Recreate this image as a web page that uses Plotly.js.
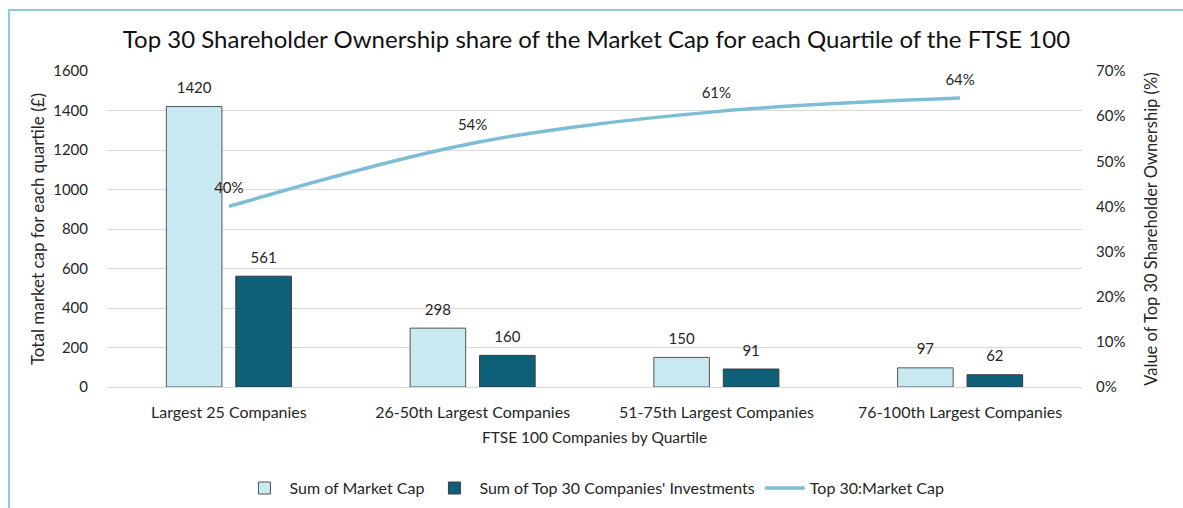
<!DOCTYPE html>
<html>
<head>
<meta charset="utf-8">
<script src="https://cdn.plot.ly/plotly-3.0.1.min.js"></script>
<style>
  html, body { margin: 0; padding: 0; background: #fff; }
  #frame {
    position: absolute; left: 8px; top: 9px;
    width: 1175px; height: 499px;
    border-left: 2px solid #8ECADB; border-top: 2px solid #8ECADB;
  }
  #chart { width: 1173px; height: 497px; }
</style>
</head>
<body>
<div id="frame"><div id="chart"></div></div>
<script>
const quartiles = ['Largest 25 Companies', '26-50th Largest Companies', '51-75th Largest Companies', '76-100th Largest Companies'];
const marketCap = [1420, 298, 150, 97];
const top30Investments = [561, 160, 91, 62];
const top30Share = [0.40, 0.54, 0.61, 0.64];

const font = 'Lato, "Open Sans", sans-serif';
const ink = '#262626';
const clear = 'rgba(0,0,0,0)';

// bar value labels: text on invisible markers, grouped like the bars so they sit over them
function labelTrace(y, group) {
  return {
    x: quartiles,
    y: y,
    text: y.map(String),
    type: 'scatter',
    mode: 'markers+text',
    alignmentgroup: 'bars',
    offsetgroup: group,
    marker: { size: 14, color: clear, line: { width: 0 } },
    textposition: 'top center',
    textfont: { size: 15, color: ink },
    cliponaxis: false,
    showlegend: false,
    hoverinfo: 'skip'
  };
}

const traces = [
  {
    x: quartiles,
    y: marketCap,
    name: 'Sum of Market Cap',
    type: 'bar',
    alignmentgroup: 'bars',
    offsetgroup: 'cap',
    marker: { color: '#C8E9F2', line: { color: '#555', width: 1 } },
    hoverinfo: 'x+y'
  },
  {
    x: quartiles,
    y: top30Investments,
    name: "Sum of Top 30 Companies' Investments",
    type: 'bar',
    alignmentgroup: 'bars',
    offsetgroup: 'inv',
    marker: { color: '#0E6079', line: { color: '#3a3a3a', width: 1 } },
    hoverinfo: 'x+y'
  },
  {
    x: quartiles,
    y: top30Share,
    name: 'Top 30:Market Cap',
    type: 'scatter',
    mode: 'lines+markers+text',
    yaxis: 'y2',
    alignmentgroup: 'line',
    offsetgroup: 'share',
    line: { color: '#7DBDD6', width: 3.5, shape: 'spline', smoothing: 1 },
    marker: { size: 14, color: clear, line: { width: 0 } },
    text: top30Share.map(v => Math.round(v * 100) + '%'),
    textposition: 'top center',
    textfont: { size: 15, color: ink },
    cliponaxis: false
  },
  labelTrace(marketCap, 'cap'),
  labelTrace(top30Investments, 'inv')
];

const layout = {
  width: 1173,
  height: 497,
  margin: { l: 97, r: 101, t: 60, b: 121 },
  paper_bgcolor: '#fff',
  plot_bgcolor: '#fff',
  font: { family: font, color: ink, size: 15 },
  title: {
    text: 'Top 30 Shareholder Ownership share of the Market Cap for each Quartile of the FTSE 100',
    font: { size: 24, color: '#111' },
    x: 0.5, xanchor: 'center',
    yref: 'container', y: 0.942, yanchor: 'middle'
  },
  barmode: 'group',
  bargap: 0.43,
  bargroupgap: 0.2,
  scattermode: 'group',
  scattergap: 0.43,
  xaxis: {
    title: { text: 'FTSE 100 Companies by Quartile', font: { size: 15.5 }, standoff: 12 },
    tickfont: { size: 16 },
    showgrid: false,
    showline: false,
    ticks: '',
    ticklabelstandoff: 14
  },
  yaxis: {
    title: { text: 'Total market cap for each quartile (£)', font: { size: 17 }, standoff: 4 },
    range: [0, 1600],
    dtick: 200,
    tickfont: { size: 15 },
    gridcolor: '#D9D9D9',
    zeroline: true,
    zerolinecolor: '#D9D9D9',
    ticklabelstandoff: 18
  },
  yaxis2: {
    title: { text: 'Value of Top 30 Shareholder Ownership (%)', font: { size: 16.5 }, standoff: 21 },
    overlaying: 'y',
    side: 'right',
    range: [0, 0.7],
    dtick: 0.1,
    tickformat: '.0%',
    tickfont: { size: 15 },
    showgrid: false,
    zeroline: false,
    ticklabelstandoff: 13
  },
  legend: {
    orientation: 'h',
    x: 0.5, xanchor: 'center',
    yref: 'container', y: 0.04, yanchor: 'middle',
    font: { size: 16 },
    itemwidth: 40,
    traceorder: 'normal'
  },
  showlegend: true
};

Plotly.newPlot('chart', traces, layout, { displayModeBar: false });
</script>
</body>
</html>
